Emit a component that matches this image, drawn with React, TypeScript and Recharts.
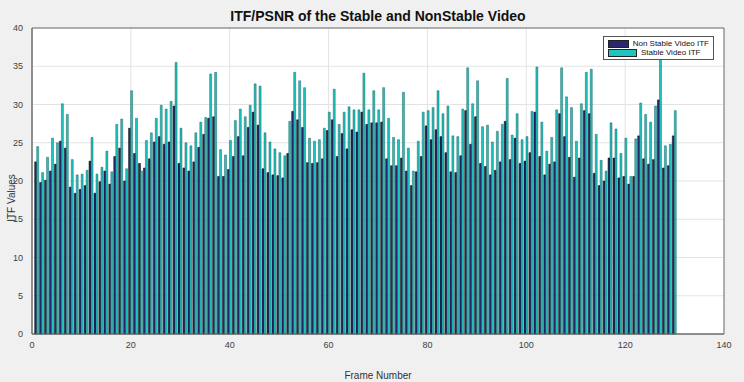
import { Bar, BarChart, CartesianGrid, Legend, ReferenceArea, XAxis, YAxis } from 'recharts'

const FONT = '"Liberation Sans", Arial, Helvetica, sans-serif'
const NAVY = '#2a2970'
const TEAL = '#1ec4bf'

// frame index 1..130
const frames = Array.from({ length: 130 }, (_, i) => i + 1)

const nonStableItf = [
  22.5, 19.8, 20.1, 21.3, 22.2, 25.2, 24.3, 19.2, 18.4, 18.9, 19.4, 22.6, 18.4, 19.9, 21.3, 19.6, 23.2, 24.3, 20.0, 26.9,
  23.6, 22.3, 21.7, 22.9, 25.1, 25.8, 24.8, 25.1, 29.8, 22.3, 21.7, 21.3, 22.5, 24.4, 26.1, 28.2, 28.4, 20.6, 20.6, 21.5,
  23.2, 25.8, 23.3, 27.0, 29.0, 27.3, 21.6, 21.1, 20.8, 20.7, 20.4, 23.6, 29.1, 28.0, 27.0, 22.4, 22.3, 22.4, 22.9, 26.6,
  28.0, 23.2, 26.2, 24.2, 26.7, 26.4, 29.0, 27.4, 27.6, 27.6, 27.7, 22.9, 22.0, 22.0, 23.0, 21.3, 19.4, 21.2, 23.2, 27.2,
  25.4, 26.7, 25.8, 23.7, 21.2, 21.1, 23.3, 29.2, 24.8, 28.4, 22.3, 21.9, 20.8, 21.4, 22.5, 27.8, 22.8, 25.6, 22.3, 22.6,
  23.7, 29.0, 23.2, 20.8, 22.2, 22.5, 28.8, 25.8, 23.1, 20.5, 23.0, 29.2, 28.8, 21.0, 19.4, 20.0, 23.0, 23.0, 20.4, 20.6,
  19.6, 20.6, 25.9, 22.9, 22.2, 22.8, 30.6, 21.7, 22.0, 25.9,
]

const stableItf = [
  24.5, 21.1, 23.1, 25.6, 25.0, 30.1, 28.7, 22.8, 20.8, 20.9, 21.4, 25.7, 20.9, 21.8, 23.9, 21.2, 27.4, 28.1, 21.6, 31.8,
  28.2, 21.3, 25.3, 26.3, 28.2, 29.9, 29.4, 30.4, 35.5, 26.9, 25.0, 24.6, 26.3, 27.7, 28.3, 34.0, 34.2, 24.1, 23.4, 25.3,
  27.9, 29.4, 28.4, 29.9, 32.7, 32.4, 26.3, 25.1, 24.2, 23.7, 23.3, 27.8, 34.2, 33.1, 32.2, 25.6, 25.2, 25.4, 26.9, 29.0,
  32.0, 27.4, 29.0, 29.7, 29.3, 29.3, 34.1, 29.3, 31.8, 29.3, 32.2, 28.2, 25.7, 25.4, 31.6, 24.3, 21.3, 25.2, 29.0, 29.2,
  29.6, 31.8, 28.8, 29.8, 25.9, 25.8, 29.4, 34.8, 30.1, 33.1, 27.1, 27.3, 25.1, 26.5, 27.4, 33.4, 26.0, 28.8, 25.4, 25.8,
  29.1, 34.9, 27.7, 23.9, 25.7, 29.3, 34.8, 31.0, 29.6, 25.2, 30.1, 34.2, 34.6, 26.1, 22.7, 21.3, 27.6, 26.8, 23.6, 25.6,
  20.6, 25.5, 30.2, 28.7, 27.7, 29.8, 36.1, 24.6, 24.8, 29.2,
]

const xTicks = [0, 20, 40, 60, 80, 100, 120, 140]
const yTicks = [0, 5, 10, 15, 20, 25, 30, 35, 40]

const rows = frames.map((frame, i) => ({ frame, nonStable: nonStableItf[i], stable: stableItf[i] }))

const tickStyle = { fontSize: 9, fill: '#404040', fontFamily: FONT }

function LegendBox() {
  const entry = (color: string, label: string) => (
    <div style={{ display: 'flex', alignItems: 'center', height: 9 }}>
      <div style={{ width: 27, height: 6, background: color, border: '0.5px solid #222', marginRight: 4 }} />
      <span>{label}</span>
    </div>
  )
  return (
    <div
      style={{
        background: '#fff',
        border: '1px solid #555',
        padding: '2px 4px',
        fontSize: 8,
        fontFamily: FONT,
        color: '#111',
        width: 101,
        whiteSpace: 'nowrap',
      }}
    >
      {entry(NAVY, 'Non Stable Video ITF')}
      {entry(TEAL, 'Stable Video ITF')}
    </div>
  )
}

export default function App() {
  return (
    <div style={{ position: 'fixed', left: 0, top: 0, width: 744, height: 382, background: '#f0f0f0' }}>
      <div
        style={{
          position: 'absolute',
          top: 8,
          left: 32,
          width: 692,
          textAlign: 'center',
          fontFamily: FONT,
          fontWeight: 'bold',
          fontSize: 14,
          color: '#111',
        }}
      >
        ITF/PSNR of the Stable and NonStable Video
      </div>
      <div
        style={{
          position: 'absolute',
          top: 370,
          left: 32,
          width: 692,
          textAlign: 'center',
          fontFamily: FONT,
          fontSize: 10,
          color: '#333',
        }}
      >
        Frame Number
      </div>
      <div
        style={{
          position: 'absolute',
          left: 11,
          top: 198,
          transform: 'translate(-50%, -50%) rotate(-90deg)',
          fontFamily: FONT,
          fontSize: 10,
          color: '#333',
          whiteSpace: 'nowrap',
        }}
      >
        ITF Values
      </div>
      <BarChart
        width={744}
        height={382}
        data={rows}
        margin={{ top: 28, right: 20, bottom: 0, left: 0 }}
        barCategoryGap="4%"
        barGap={0}
      >
        <CartesianGrid stroke="#e3e3e3" fill="#ffffff" />
        <XAxis
          dataKey="frame"
          type="number"
          domain={[0, 140]}
          ticks={xTicks}
          height={24}
          tick={tickStyle}
          tickLine={false}
          tickMargin={2}
          axisLine={{ stroke: '#6f6f6f' }}
        />
        <YAxis
          domain={[0, 40]}
          ticks={yTicks}
          width={32}
          tick={tickStyle}
          tickLine={false}
          tickMargin={3}
          axisLine={{ stroke: '#6f6f6f' }}
        />
        <Legend
          content={() => <LegendBox />}
          wrapperStyle={{ position: 'absolute', top: 36, left: 603, width: 'auto' }}
        />
        <Bar dataKey="nonStable" name="Non Stable Video ITF" fill={NAVY} stroke="#000" strokeWidth={0.5} isAnimationActive={false} />
        <Bar dataKey="stable" name="Stable Video ITF" fill={TEAL} stroke="#0a4a48" strokeWidth={0.4} isAnimationActive={false} />
        <ReferenceArea x1={0} x2={140} y1={0} y2={40} fill="none" stroke="#6f6f6f" strokeWidth={1} />
      </BarChart>
    </div>
  )
}
